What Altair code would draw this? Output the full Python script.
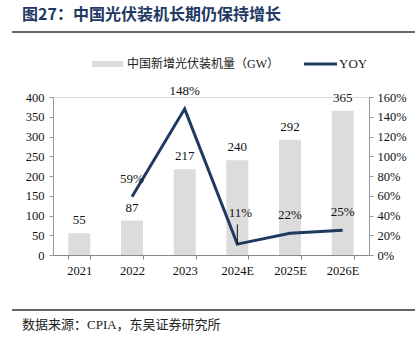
import altair as alt
import pandas as pd

years = ["2021", "2022", "2023", "2024E", "2025E", "2026E"]
capacity = [55, 87, 217, 240, 292, 365]
yoy = [None, 0.59, 1.48, 0.11, 0.22, 0.25]
cap_ticks = [0, 50, 100, 150, 200, 250, 300, 350, 400]
yoy_ticks = [0, 0.2, 0.4, 0.6, 0.8, 1.0, 1.2, 1.4, 1.6]

df = pd.DataFrame({"year": years, "cap": capacity, "yoy": yoy})

SERIF = "Liberation Serif, Noto Sans CJK SC"
NAVY = "#1f3a60"
GRAY = "#dcdcdc"

x_enc = alt.X("year:N", sort=years, title=None,
              scale=alt.Scale(paddingInner=0.58, paddingOuter=0.29),
              axis=alt.Axis(labelAngle=0, labelFont=SERIF, labelFontSize=12.5,
                            labelColor="#111", domainColor="#888", tickColor="#888",
                            tickSize=4, tickBand="extent", labelPadding=5))

y_left = alt.Y("cap:Q", title=None, scale=alt.Scale(domain=[0, 400]),
               axis=alt.Axis(values=cap_ticks, grid=False,
                             labelOverlap=False, labelFlush=False,
                             labelFont="Liberation Serif", labelFontSize=12.5, labelColor="#111",
                             domainColor="#999", tickColor="#999", tickSize=4,
                             labelPadding=5))
y_right = alt.Y("yoy:Q", title=None, scale=alt.Scale(domain=[0, 1.6]),
                axis=alt.Axis(orient="right", format=".0%", values=yoy_ticks,
                              grid=False, labelOverlap=False, labelFlush=False,
                              labelFont="Liberation Serif", labelFontSize=12.5,
                              labelColor="#111", domainColor="#999", tickColor="#999",
                              tickSize=4, labelPadding=4))

base = alt.Chart(df)

bars = base.mark_bar(color=GRAY, size=22).encode(x=x_enc, y=y_left)
bar_labels = base.mark_text(font=SERIF, fontSize=13, color="#111",
                            baseline="middle", dy=-13).encode(
    x=x_enc, y=y_left, text=alt.Text("cap:Q"))

left = alt.layer(bars, bar_labels)

line_df = base.transform_filter("isValid(datum.yoy)")
line = line_df.mark_line(color=NAVY, strokeWidth=3).encode(x=x_enc, y=y_right)
yoy_labels = line_df.transform_filter("datum.year != '2024E'").mark_text(
    font=SERIF, fontSize=13, color="#111", baseline="middle", dy=-18).encode(
    x=x_enc, y=y_right, text=alt.Text("yoy:Q", format=".0%"))
yoy_low = line_df.transform_filter("datum.year == '2024E'").mark_text(
    font=SERIF, fontSize=13, color="#111", baseline="middle", dy=-31, dx=3).encode(
    x=x_enc, y=y_right, text=alt.Text("yoy:Q", format=".0%"))
leader = line_df.transform_filter("datum.year == '2024E'").transform_calculate(
    top="datum.yoy + 0.2").mark_rule(color="#111", strokeWidth=1).encode(
    x=x_enc, y=y_right, y2="top:Q")

right = alt.layer(line, yoy_labels, yoy_low, leader)

one = alt.Data(values=[{}])
title = alt.Chart(one).mark_text(text="图27：中国光伏装机长期仍保持增长", font="Noto Sans CJK SC",
                                 fontWeight="bold", fontSize=16, color="#1f3864",
                                 align="left", baseline="middle").encode(
    x=alt.value(-31), y=alt.value(-82))
top_rule = alt.Chart(one).mark_rule(color="#333", strokeWidth=1.5).encode(
    x=alt.value(-41), x2=alt.value(362), y=alt.value(-65))
bot_rule = alt.Chart(one).mark_rule(color="#333", strokeWidth=1.5).encode(
    x=alt.value(-41), x2=alt.value(362), y=alt.value(213))
source = alt.Chart(one).mark_text(text="数据来源：CPIA，东吴证券研究所", font=SERIF,
                                  fontSize=13, color="#222", align="left",
                                  baseline="middle").encode(
    x=alt.value(-31), y=alt.value(228))
leg_rect = alt.Chart(one).mark_rect(color=GRAY).encode(
    x=alt.value(39), x2=alt.value(70), y=alt.value(-36), y2=alt.value(-30))
leg_text = alt.Chart(one).mark_text(text="中国新增光伏装机量（GW）", font=SERIF, fontSize=12,
                                    color="#222", align="left", baseline="middle").encode(
    x=alt.value(74), y=alt.value(-33))
leg_line = alt.Chart(one).mark_rule(color=NAVY, strokeWidth=3).encode(
    x=alt.value(251), x2=alt.value(284), y=alt.value(-33))
leg_text2 = alt.Chart(one).mark_text(text="YOY", font=SERIF, fontSize=13,
                                     color="#222", align="left", baseline="middle").encode(
    x=alt.value(286), y=alt.value(-33))

chart = alt.layer(left, right, title, top_rule, bot_rule, source,
                  leg_rect, leg_text, leg_line, leg_text2).resolve_scale(
    y="independent").properties(
    width=316, height=158,
    autosize=alt.AutoSizeParams(type="none"),
    padding={"left": 53, "top": 97, "right": 50, "bottom": 83},
).configure_view(stroke=None).configure(background="white")

chart.save("out.html", embed_options={"renderer": "svg", "actions": False})
